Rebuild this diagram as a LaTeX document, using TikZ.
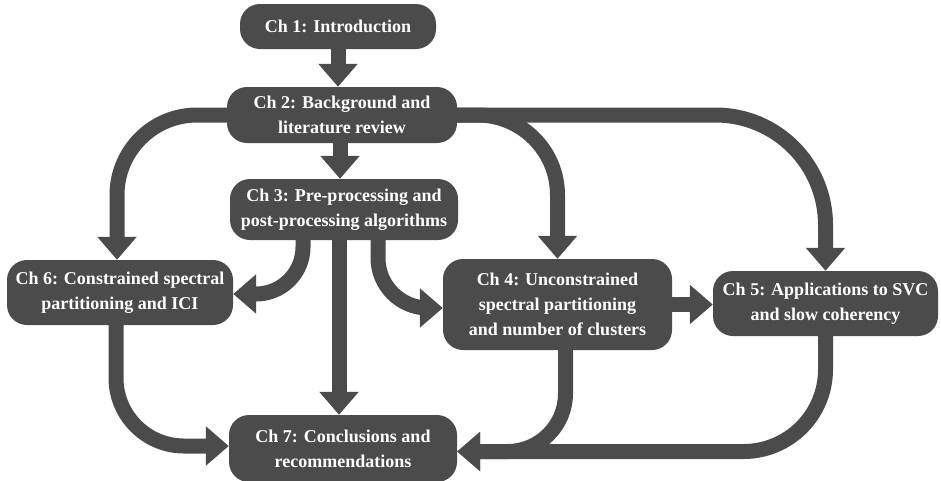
\documentclass[tikz,border=0pt]{standalone}
\usepackage{fontspec}
\setmainfont{Liberation Serif}
\usetikzlibrary{arrows.meta,calc}
\definecolor{boxgray}{RGB}{75,75,75}
\begin{document}
\begin{tikzpicture}[x=1pt,y=-1pt,
  chapter/.style={draw=none,fill=boxgray,text=white,rounded corners=20pt,
    font=\fontsize{18}{25}\selectfont\bfseries,align=center,inner sep=0pt},
  conn/.style={draw=boxgray,line width=15pt,
    -{Triangle[length=23pt,width=38pt]}}]
\useasboundingbox (0,0) rectangle (941,480);

% chapter boxes
\node[chapter,minimum width=196pt,minimum height=45pt] (ch1) at (338,26.5) {Ch 1: Introduction};
\node[chapter,minimum width=230pt,minimum height=56pt] (ch2) at (342,115) {Ch 2: Background and\\literature review};
\node[chapter,minimum width=228pt,minimum height=61pt] (ch3) at (344,209.5) {Ch 3: Pre-processing and\\post-processing algorithms};
\node[chapter,minimum width=226pt,minimum height=65pt] (ch6) at (120,292.5) {Ch 6: Constrained spectral\\partitioning and ICI};
\node[chapter,minimum width=229pt,minimum height=91pt] (ch4) at (557.5,304.5) {Ch 4: Unconstrained\\spectral partitioning\\and number of clusters};
\node[chapter,minimum width=225pt,minimum height=65pt] (ch5) at (825.5,303.5) {Ch 5: Applications to SVC\\and slow coherency};
\node[chapter,minimum width=228pt,minimum height=67pt] (ch7) at (343,448.5) {Ch 7: Conclusions and\\recommendations};

% straight connectors
\draw[conn] (ch1.south) -- (ch1.south |- ch2.north);
\draw[conn] ([xshift=-2pt]ch2.south) -- ([xshift=-2pt]ch2.south |- ch3.north);
\draw[conn] ([xshift=-5pt]ch3.south) -- ([xshift=-5pt]ch3.south |- ch7.north);
\draw[conn] (ch4.east) -- (ch4.east -| ch5.west);

% curved connectors out of Ch 2
\draw[conn,rounded corners=80pt] (ch2.west) -| ([xshift=-3pt]ch6.north);
\draw[conn,rounded corners=80pt] (ch2.east) -| (ch4.north);
\draw[conn,rounded corners=110pt] (ch2.east) -| (ch5.north);

% curved connectors out of Ch 3
\draw[conn,rounded corners=47pt] ([xshift=-41pt]ch3.south) |- ([yshift=-1.5pt]ch6.east);
\draw[conn,rounded corners=50pt] ([xshift=34pt]ch3.south) |- ([yshift=-3.5pt]ch4.west);

% connectors into Ch 7
\draw[conn,rounded corners=68pt] ([xshift=-4pt]ch6.south) |- ([yshift=2.5pt]ch7.west);
\draw[conn,rounded corners=58pt] ([xshift=8pt]ch4.south) |- ([yshift=-3pt]ch7.east);
\draw[conn,rounded corners=82pt] (ch5.south) |- ([yshift=-3pt]ch7.east);
\end{tikzpicture}
\end{document}
